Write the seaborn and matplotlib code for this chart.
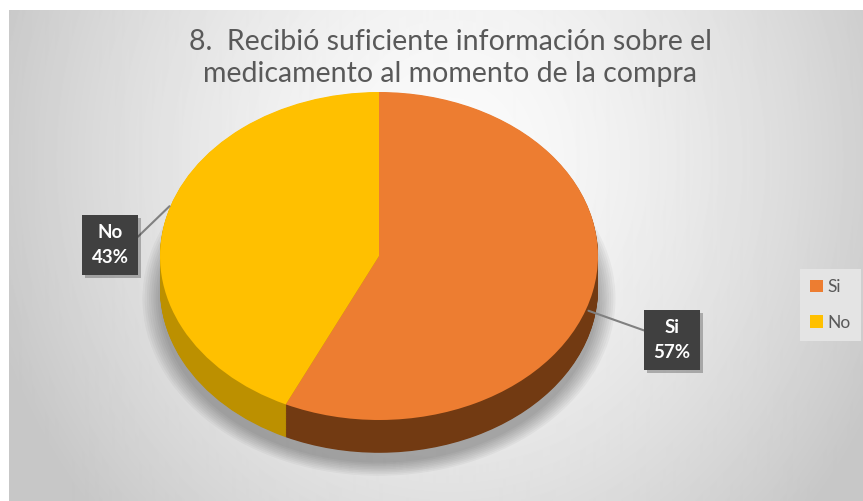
import numpy as np
import matplotlib
matplotlib.use("Agg")
import matplotlib.pyplot as plt
import matplotlib.patheffects as pe
import seaborn as sns

# --- data ---
title = "8.  Recibió suficiente información sobre el\nmedicamento al momento de la compra"
categories = ["Si", "No"]
percentages = [57, 43]
top_colors = ["#ED7D31", "#FFC000"]
side_colors = ["#723a12", "#BC9000"]

W, H = 863, 501
# top face of the pie in pixels (center x, center y from top, radius x, radius y)
CX, CY, RX, RY = 379, 256, 219, 164
DEPTH = 0.2  # thickness of the 3d pie in data units


def px_to_data(px, py):
    return (px - CX) / RX, (CY - py) / RY


sns.set_theme(style="white")
plt.rcParams["font.family"] = ["Lato", "DejaVu Sans"]

fig = plt.figure(figsize=(W / 100, H / 100), dpi=100, facecolor="white")

# radial gray gradient behind the chart
bg = fig.add_axes([9 / W, 0, (W - 9) / W, (H - 10) / H])
yy, xx = np.mgrid[0:H - 10, 0:W - 9]
r = np.sqrt(((xx - 440) / 470) ** 2 + ((yy - 150) / 520) ** 2)
grad = np.clip(0.985 - 0.2 * r ** 1.5, 0.78, 1)
bg.imshow(grad, cmap="gray", vmin=0, vmax=1, aspect="auto", interpolation="bilinear")
bg.axis("off")

ax = fig.add_axes([0, 0, 1, 1])
ax.patch.set_alpha(0)

# soft shadow under the pie
for rr in np.linspace(1.08, 1.0, 9):
    ax.pie([1], colors=["black"], radius=rr, center=(0.0, -DEPTH - 0.06),
           wedgeprops=dict(alpha=0.035, linewidth=0))

# side of the pie: stacked darker layers
for d in np.linspace(DEPTH, 0.004, 45):
    ax.pie(percentages, colors=side_colors, startangle=90, counterclock=False,
           center=(0, -d), wedgeprops=dict(linewidth=0))

# top face
wedges, _ = ax.pie(percentages, colors=top_colors, startangle=90, counterclock=False,
                   wedgeprops=dict(linewidth=0))

ax.set_aspect("auto")
x0, y0 = px_to_data(0, H)
x1, y1 = px_to_data(W, 0)
ax.set_xlim(x0, x1)
ax.set_ylim(y0, y1)
ax.axis("off")

# data labels with leader lines
cum = np.cumsum(percentages)
mids = 90 - (cum - np.array(percentages) / 2) * 3.6
label_pos = {"Si": (672, 340), "No": (110, 245)}
anchor_shift = {"Si": -0.12, "No": 0.09}
line_angle = {"Si": -19.5, "No": 44}
for cat, pct, m in zip(categories, percentages, mids):
    a = np.deg2rad(m)
    xy = (0.98 * np.cos(a), 0.98 * np.sin(a) + anchor_shift[cat])
    ann = ax.annotate(f"{cat}\n{pct}%", xy=xy, xytext=px_to_data(*label_pos[cat]),
                      ha="center", va="center", fontsize=13.5, fontweight="bold",
                      color="white", linespacing=1.55,
                      bbox=dict(boxstyle="square,pad=0.5", facecolor="#404040",
                                edgecolor="none"),
                      arrowprops=dict(arrowstyle="-", color="#808080", lw=1.5,
                                      shrinkA=0, shrinkB=0,
                                      connectionstyle=f"angle,angleA=0,angleB={line_angle[cat]},rad=0"))
    ann.get_bbox_patch().set_path_effects(
        [pe.SimplePatchShadow(offset=(2, -2), shadow_rgbFace="black", alpha=0.25), pe.Normal()])

fig.text(450 / W, 1 - 58 / H, title, ha="center", va="center",
         fontsize=20.5, color="#595959", linespacing=1.3)

fig.legend(wedges, categories, loc="center left", bbox_to_anchor=(800 / W, 1 - 305 / H),
           borderaxespad=0, fontsize=12.5, labelcolor="#595959",
           handlelength=0.7, handleheight=0.7, handletextpad=0.25,
           labelspacing=1.1, borderpad=0.6, frameon=True, fancybox=False,
           facecolor="#e4e4e4", edgecolor="none", framealpha=1)

fig.savefig("out.png", dpi=100)
